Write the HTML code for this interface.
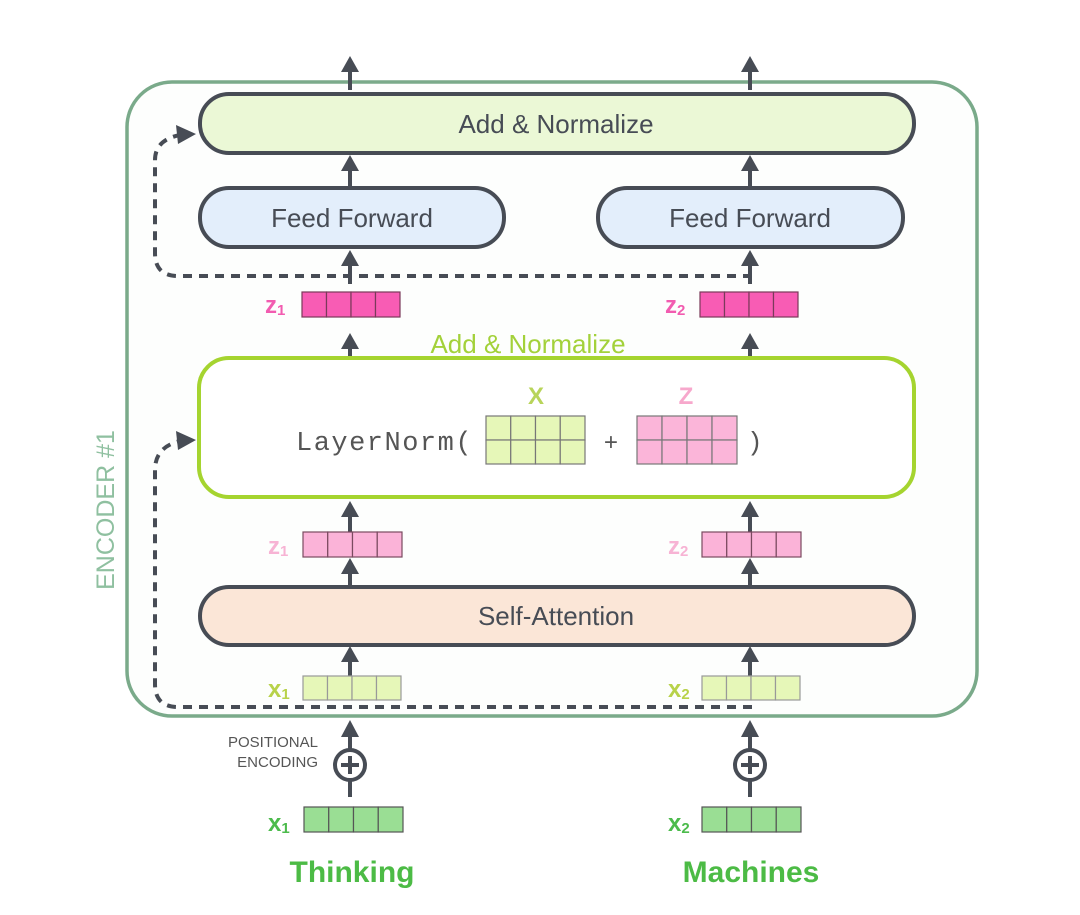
<!DOCTYPE html>
<html><head><style>body{margin:0;background:#fff}svg{display:block}</style></head><body>
<svg width="1080" height="915" viewBox="0 0 1080 915" xmlns="http://www.w3.org/2000/svg" font-family="'Liberation Sans', sans-serif">
<defs>
<g id="arr"><line x1="0" y1="12" x2="0" y2="34" stroke="#474c55" stroke-width="4"/><path d="M-9,16 L0,0 L9,16 z" fill="#474c55"/></g>
</defs>
<rect x="127" y="82" width="850" height="634" rx="45" fill="#fdfefd" stroke="#7aaa8a" stroke-width="3.5"/>
<text transform="translate(114,510) rotate(-90)" text-anchor="middle" font-size="25" fill="#8fc0a0">ENCODER #1</text>

<!-- arrows (drawn under boxes) -->
<use href="#arr" x="350" y="56"/><use href="#arr" x="750" y="56"/>
<use href="#arr" x="350" y="155"/><use href="#arr" x="750" y="155"/>
<use href="#arr" x="350" y="250"/><use href="#arr" x="750" y="250"/>
<use href="#arr" x="350" y="333"/><use href="#arr" x="750" y="333"/>
<use href="#arr" x="350" y="501"/><use href="#arr" x="750" y="501"/>
<use href="#arr" x="350" y="558"/><use href="#arr" x="750" y="558"/>
<use href="#arr" x="350" y="646"/><use href="#arr" x="750" y="646"/>

<rect x="200" y="94" width="714" height="59" rx="29" fill="#ebf8d6" stroke="#474c55" stroke-width="4"/>
<text x="556" y="133" text-anchor="middle" font-size="26" fill="#474c55">Add &amp; Normalize</text>
<rect x="200" y="188" width="304" height="59" rx="29" fill="#e3eefb" stroke="#474c55" stroke-width="4"/>
<text x="352" y="227" text-anchor="middle" font-size="26" fill="#474c55">Feed Forward</text>
<rect x="598" y="188" width="305" height="59" rx="29" fill="#e3eefb" stroke="#474c55" stroke-width="4"/>
<text x="750" y="227" text-anchor="middle" font-size="26" fill="#474c55">Feed Forward</text>

<!-- dashed residual top -->
<path d="M752,276 L178,276 Q155,276 155,253 L155,160 Q155,140 180,135" fill="none" stroke="#474c55" stroke-width="4" stroke-dasharray="9,7"/>
<path d="M176,125 L196,134 L178,144 z" fill="#474c55"/>

<!-- z pink -->
<text x="265" y="313" font-size="24" font-weight="bold" fill="#f25cb0">z<tspan font-size="15" dy="2">1</tspan></text>
<g stroke="#7a3a5a" stroke-width="1.2" fill="#f85cb4"><rect x="302" y="292" width="24.5" height="25"/><rect x="326.5" y="292" width="24.5" height="25"/><rect x="351" y="292" width="24.5" height="25"/><rect x="375.5" y="292" width="24.5" height="25"/></g>
<text x="665" y="313" font-size="24" font-weight="bold" fill="#f25cb0">z<tspan font-size="15" dy="2">2</tspan></text>
<g stroke="#7a3a5a" stroke-width="1.2" fill="#f85cb4"><rect x="700" y="292" width="24.5" height="25"/><rect x="724.5" y="292" width="24.5" height="25"/><rect x="749" y="292" width="24.5" height="25"/><rect x="773.5" y="292" width="24.5" height="25"/></g>

<text x="528" y="353" text-anchor="middle" font-size="26" fill="#a3d13a">Add &amp; Normalize</text>
<rect x="199" y="358" width="715" height="139" rx="30" fill="#fff" stroke="#a5d42f" stroke-width="4"/>
<text x="296" y="450" font-family="'Liberation Mono', monospace" font-size="27" letter-spacing="1.5" fill="#555">LayerNorm(</text>
<text x="536" y="404" text-anchor="middle" font-size="24" font-weight="bold" fill="#b8d45a">X</text>
<g stroke="#777" stroke-width="1.2" fill="#e6f7b8">
<rect x="486" y="416" width="24.75" height="24"/><rect x="510.75" y="416" width="24.75" height="24"/><rect x="535.5" y="416" width="24.75" height="24"/><rect x="560.25" y="416" width="24.75" height="24"/>
<rect x="486" y="440" width="24.75" height="24"/><rect x="510.75" y="440" width="24.75" height="24"/><rect x="535.5" y="440" width="24.75" height="24"/><rect x="560.25" y="440" width="24.75" height="24"/></g>
<text x="611" y="450" text-anchor="middle" font-family="'Liberation Mono', monospace" font-size="24" fill="#555">+</text>
<text x="686" y="404" text-anchor="middle" font-size="24" font-weight="bold" fill="#f7a8cc">Z</text>
<g stroke="#777" stroke-width="1.2" fill="#fbb5d9">
<rect x="637" y="416" width="25" height="24"/><rect x="662" y="416" width="25" height="24"/><rect x="687" y="416" width="25" height="24"/><rect x="712" y="416" width="25" height="24"/>
<rect x="637" y="440" width="25" height="24"/><rect x="662" y="440" width="25" height="24"/><rect x="687" y="440" width="25" height="24"/><rect x="712" y="440" width="25" height="24"/></g>
<text x="747" y="450" font-family="'Liberation Mono', monospace" font-size="26" fill="#555">)</text>

<!-- dashed residual bottom -->
<path d="M752,707 L178,707 Q155,707 155,684 L155,470 Q155,447 180,441" fill="none" stroke="#474c55" stroke-width="4" stroke-dasharray="9,7"/>
<path d="M176,431 L196,440 L178,450 z" fill="#474c55"/>

<text x="268" y="554" font-size="24" font-weight="bold" fill="#f7b3d4">z<tspan font-size="15" dy="2">1</tspan></text>
<g stroke="#7a4a60" stroke-width="1.2" fill="#fbb3d8"><rect x="303" y="532" width="24.75" height="25"/><rect x="327.75" y="532" width="24.75" height="25"/><rect x="352.5" y="532" width="24.75" height="25"/><rect x="377.25" y="532" width="24.75" height="25"/></g>
<text x="668" y="554" font-size="24" font-weight="bold" fill="#f7b3d4">z<tspan font-size="15" dy="2">2</tspan></text>
<g stroke="#7a4a60" stroke-width="1.2" fill="#fbb3d8"><rect x="702" y="532" width="24.75" height="25"/><rect x="726.75" y="532" width="24.75" height="25"/><rect x="751.5" y="532" width="24.75" height="25"/><rect x="776.25" y="532" width="24.75" height="25"/></g>
<rect x="200" y="587" width="714" height="58" rx="29" fill="#fbe6d7" stroke="#474c55" stroke-width="4"/>
<text x="556" y="625" text-anchor="middle" font-size="26" fill="#474c55">Self-Attention</text>
<text x="268" y="697" font-size="24" font-weight="bold" fill="#b8d24a">x<tspan font-size="15" dy="2">1</tspan></text>
<g stroke="#999" stroke-width="1.2" fill="#e6f7b8"><rect x="303" y="676" width="24.5" height="24"/><rect x="327.5" y="676" width="24.5" height="24"/><rect x="352" y="676" width="24.5" height="24"/><rect x="376.5" y="676" width="24.5" height="24"/></g>
<text x="668" y="697" font-size="24" font-weight="bold" fill="#b8d24a">x<tspan font-size="15" dy="2">2</tspan></text>
<g stroke="#999" stroke-width="1.2" fill="#e6f7b8"><rect x="702" y="676" width="24.5" height="24"/><rect x="726.5" y="676" width="24.5" height="24"/><rect x="751" y="676" width="24.5" height="24"/><rect x="775.5" y="676" width="24.5" height="24"/></g>

<!-- positional -->
<text x="318" y="747" text-anchor="end" font-size="15" fill="#555">POSITIONAL</text>
<text x="318" y="767" text-anchor="end" font-size="15" fill="#555">ENCODING</text>
<g id="pe">
<line x1="350" y1="797" x2="350" y2="735" stroke="#474c55" stroke-width="4"/>
<path d="M341,737 L350,720 L359,737 z" fill="#474c55"/>
<circle cx="350" cy="765" r="15" fill="#fff" stroke="#474c55" stroke-width="4"/>
<line x1="341" y1="765" x2="359" y2="765" stroke="#474c55" stroke-width="4"/><line x1="350" y1="756" x2="350" y2="774" stroke="#474c55" stroke-width="4"/>
</g>
<use href="#pe" x="400"/>

<text x="268" y="831" font-size="24" font-weight="bold" fill="#4cbb4c">x<tspan font-size="15" dy="2">1</tspan></text>
<g stroke="#555" stroke-width="1.2" fill="#9ade94"><rect x="304" y="807" width="24.75" height="25"/><rect x="328.75" y="807" width="24.75" height="25"/><rect x="353.5" y="807" width="24.75" height="25"/><rect x="378.25" y="807" width="24.75" height="25"/></g>
<text x="668" y="831" font-size="24" font-weight="bold" fill="#4cbb4c">x<tspan font-size="15" dy="2">2</tspan></text>
<g stroke="#555" stroke-width="1.2" fill="#9ade94"><rect x="702" y="807" width="24.75" height="25"/><rect x="726.75" y="807" width="24.75" height="25"/><rect x="751.5" y="807" width="24.75" height="25"/><rect x="776.25" y="807" width="24.75" height="25"/></g>
<text x="352" y="882" text-anchor="middle" font-size="30" font-weight="bold" fill="#4cbb45">Thinking</text>
<text x="751" y="882" text-anchor="middle" font-size="30" font-weight="bold" fill="#4cbb45">Machines</text>
</svg>
</body></html>
